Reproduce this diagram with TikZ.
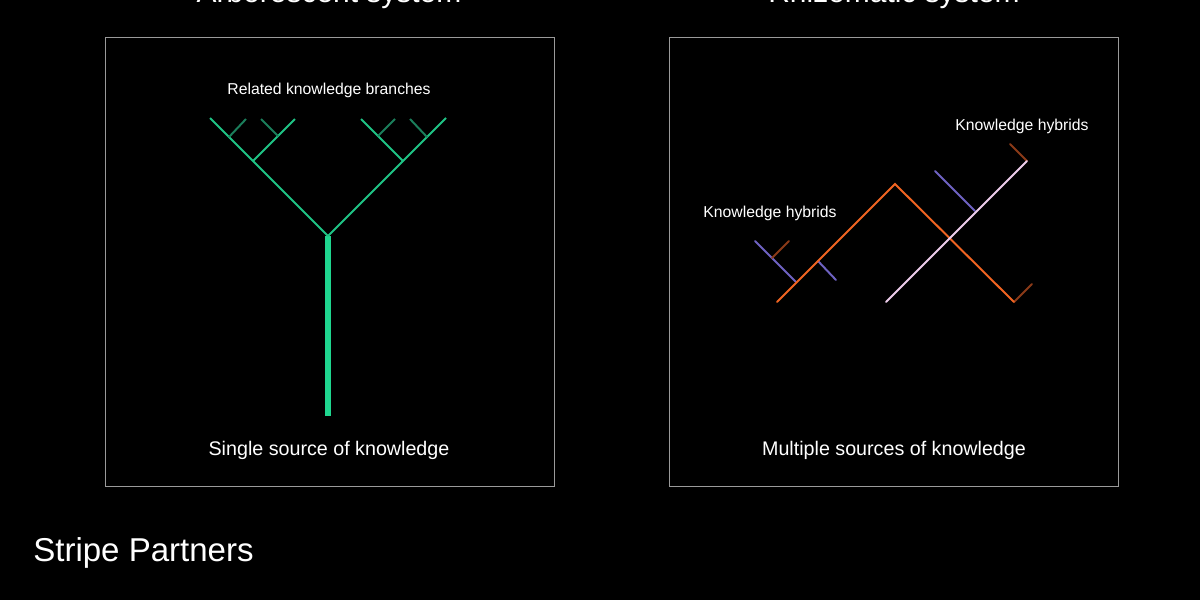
\documentclass[tikz,border=0pt]{standalone}
\usepackage{fontspec}
\setmainfont{Liberation Sans}
\usepackage{tikz}
\usetikzlibrary{positioning}

\definecolor{trunkgreen}{HTML}{1FD68F}
\definecolor{branchgreen}{HTML}{1FC385}
\definecolor{twiggreen}{HTML}{1B7E5B}
\definecolor{rhizorange}{HTML}{F06422}
\definecolor{tickorange}{HTML}{8A3A18}
\definecolor{rhizpurple}{HTML}{6E62C2}
\definecolor{rhizpink}{HTML}{EDCDEB}
\definecolor{framegray}{HTML}{9A9A9A}

\tikzset{
  panel/.style={draw=framegray, line width=0.7pt},
  caption/.style={text=white, inner sep=0pt, anchor=base, font=\fontsize{14}{16}\selectfont},
  smalltext/.style={text=white, inner sep=0pt, anchor=base, font=\fontsize{11.2}{13}\selectfont},
  branch/.style={draw=branchgreen, line width=1.4pt},
  twig/.style={draw=twiggreen, line width=1.4pt},
  rhizline/.style={line width=1.4pt, line cap=round}
}

\begin{document}
\begin{tikzpicture}[x=0.025cm, y=-0.025cm]
  \fill[black] (0,0) rectangle (1200,600);
  \useasboundingbox (0,0) rectangle (1200,600);

  % titles, cut off at the top edge
  \node[text=white, inner sep=0pt, anchor=base, font=\fontsize{21.3}{24}\selectfont] (arbtitle) at (329,2) {Arborescent system};
  \node[text=white, inner sep=0pt, anchor=base, font=\fontsize{21.3}{24}\selectfont] (rhiztitle) at (894,2) {Rhizomatic system};

  % panels
  \node[panel, minimum width=449*0.025cm, minimum height=449*0.025cm, anchor=north west] (arbpanel) at (105,37) {};
  \node[panel, minimum width=449*0.025cm, minimum height=449*0.025cm, anchor=north west] (rhizpanel) at (669,37) {};

  % tree
  \coordinate (root) at (328,416);
  \coordinate (fork) at (328,236);
  \draw[draw=trunkgreen, line width=4.6pt] (root) -- (fork);
  \foreach \s/\n in {-1/l, 1/r} {
    \coordinate (sub\n) at (328+\s*75,161);
    \coordinate (outer\n) at (328+\s*118,118);
    \coordinate (inner\n) at (328+\s*33,119);
    \coordinate (twigao\n) at (328+\s*99,137);
    \coordinate (twigae\n) at (328+\s*82,119);
    \coordinate (twigbo\n) at (328+\s*50,136);
    \coordinate (twigbe\n) at (328+\s*67,119);
    \draw[branch] (fork) -- (sub\n) -- (outer\n);
    \draw[branch] (sub\n) -- (inner\n);
    \draw[twig] (twigao\n) -- (twigae\n);
    \draw[twig] (twigbo\n) -- (twigbe\n);
  }

  \node[smalltext] (branches) at (329,94) {Related knowledge branches};
  \node[caption] (single) at (329,455) {Single source of knowledge};

  % rhizome
  \coordinate (ostart) at (777,302);
  \coordinate (opeak) at (895,184);
  \coordinate (oend) at (1014,302);
  \coordinate (otick) at (1032,284);
  \coordinate (pstart) at (886,302);
  \coordinate (pend) at (1027,161);
  \coordinate (ptick) at (1010,144);
  \coordinate (vaa) at (755,241);
  \coordinate (vab) at (796,282);
  \coordinate (vba) at (818,261);
  \coordinate (vbb) at (836,280);
  \coordinate (vca) at (935,171);
  \coordinate (vcb) at (975,211);
  \coordinate (taa) at (772,258);
  \coordinate (tab) at (789,241);

  \draw[rhizline, draw=rhizpurple] (vaa) -- (vab);
  \draw[rhizline, draw=rhizpurple] (vba) -- (vbb);
  \draw[rhizline, draw=rhizpurple] (vca) -- (vcb);
  \draw[rhizline, draw=tickorange] (taa) -- (tab);
  \draw[rhizline, draw=tickorange] (oend) -- (otick);
  \draw[rhizline, draw=tickorange] (pend) -- (ptick);
  \draw[rhizline, draw=rhizorange, line join=miter] (ostart) -- (opeak) -- (oend);
  \draw[rhizline, draw=rhizpink] (pstart) -- (pend);

  \node[smalltext] (hybridsleft) at (770,217) {Knowledge hybrids};
  \node[smalltext] (hybridsright) at (1022,130) {Knowledge hybrids};
  \node[caption] (multiple) at (894,455) {Multiple sources of knowledge};

  \node[text=white, inner sep=0pt, anchor=base west, font=\fontsize{23.5}{27}\selectfont] (brand) at (33,561) {Stripe Partners};
\end{tikzpicture}
\end{document}
